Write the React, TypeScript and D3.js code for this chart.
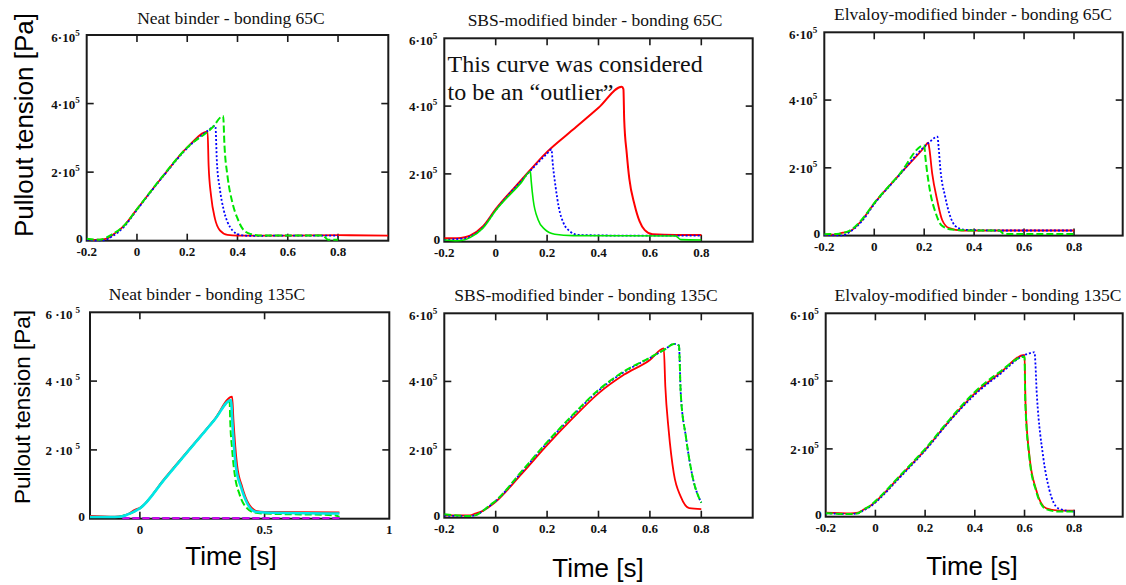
import React from "react";
import * as d3 from "d3";

type P = [number, number];

// Pullout tension values in units of 1e5 Pa, time in s
const neat65Red: P[] = [[-0.2,0.05],[-0.17,0.02],[-0.15,0.03],[-0.12,0.06],[-0.1,0.15],[-0.05,0.45],[0,0.92],[0.1,1.85],[0.2,2.72],[0.281,3.18],[0.285,2.2],[0.295,1.3],[0.31,0.65],[0.33,0.3],[0.36,0.17],[0.4,0.15],[0.6,0.15],[0.8,0.16],[1.0,0.15]];
const neat65Blue: P[] = [[-0.2,0.03],[-0.15,0.0],[-0.12,0.04],[-0.1,0.12],[-0.05,0.42],[0,0.9],[0.1,1.84],[0.2,2.7],[0.28,3.2],[0.312,3.35],[0.318,2.3],[0.33,1.5],[0.345,0.9],[0.36,0.55],[0.38,0.3],[0.41,0.17],[0.45,0.14],[0.6,0.15],[0.8,0.15]];
const neat65Green: P[] = [[-0.2,0.06],[-0.15,0.03],[-0.1,0.18],[-0.05,0.45],[0,0.92],[0.1,1.86],[0.2,2.72],[0.3,3.3],[0.343,3.64],[0.348,2.8],[0.36,1.9],[0.38,1.1],[0.4,0.65],[0.42,0.35],[0.45,0.2],[0.5,0.15],[0.74,0.15],[0.76,0.03],[0.8,0.03]];

const sbs65Red: P[] = [[-0.2,0.1],[-0.15,0.1],[-0.12,0.13],[-0.1,0.18],[-0.05,0.45],[0,0.96],[0.1,1.82],[0.2,2.65],[0.3,3.3],[0.4,3.95],[0.491,4.57],[0.497,4.5],[0.5,3.6],[0.51,2.6],[0.52,1.85],[0.54,1.1],[0.56,0.6],[0.58,0.34],[0.61,0.22],[0.7,0.2],[0.8,0.2]];
const sbs65Blue: P[] = [[-0.2,0.05],[-0.15,0.08],[-0.12,0.1],[-0.1,0.15],[-0.05,0.42],[0,0.93],[0.1,1.8],[0.2,2.6],[0.217,2.72],[0.222,2.3],[0.233,1.62],[0.245,1.03],[0.264,0.55],[0.29,0.3],[0.32,0.2],[0.5,0.18],[0.8,0.18]];
const sbs65Green: P[] = [[-0.2,0.05],[-0.15,0.03],[-0.12,0.06],[-0.1,0.12],[-0.05,0.4],[0,0.92],[0.1,1.75],[0.135,2.07],[0.138,1.8],[0.146,1.23],[0.165,0.65],[0.19,0.37],[0.23,0.22],[0.3,0.18],[0.7,0.17],[0.72,0.06],[0.8,0.05]];

const elv65Red: P[] = [[-0.2,0.03],[-0.15,0.03],[-0.13,0.08],[-0.1,0.12],[-0.05,0.45],[0,0.95],[0.1,1.79],[0.2,2.6],[0.216,2.74],[0.22,2.6],[0.232,1.84],[0.252,1.05],[0.272,0.46],[0.3,0.22],[0.35,0.15],[0.8,0.15]];
const elv65Blue: P[] = [[-0.2,0.02],[-0.13,0.0],[-0.1,0.1],[-0.05,0.42],[0,0.93],[0.1,1.78],[0.2,2.62],[0.22,2.75],[0.253,2.92],[0.258,2.6],[0.264,2.03],[0.284,1.15],[0.31,0.46],[0.337,0.22],[0.37,0.17],[0.5,0.15],[0.8,0.15]];
const elv65Green: P[] = [[-0.2,0.04],[-0.15,0.05],[-0.1,0.14],[-0.05,0.47],[0,0.96],[0.1,1.8],[0.2,2.67],[0.205,2.3],[0.225,1.25],[0.245,0.69],[0.27,0.3],[0.31,0.18],[0.4,0.15],[0.5,0.15],[0.52,0.05],[0.8,0.05]];

const neat135Red: P[] = [[-0.2,0.08],[-0.1,0.06],[-0.07,0.08],[-0.05,0.13],[-0.02,0.26],[0,0.32],[0.1,1.18],[0.2,2.04],[0.3,2.9],[0.37,3.55],[0.375,2.9],[0.39,1.55],[0.41,0.93],[0.435,0.45],[0.47,0.22],[0.5,0.2],[0.8,0.18]];
const neat135Green: P[] = [[-0.2,0.05],[-0.1,0.05],[-0.05,0.12],[0,0.3],[0.1,1.16],[0.2,2.02],[0.3,2.88],[0.36,3.4],[0.362,2.9],[0.37,2.0],[0.38,1.3],[0.4,0.7],[0.43,0.3],[0.46,0.18],[0.5,0.15],[0.78,0.1],[0.8,0.05]];
const neat135Blue: P[] = [[-0.07,0.01],[0.8,0.01]];
const neat135Magenta: P[] = [[-0.07,0.01],[0.8,0.01]];
const neat135Cyan: P[] = [[-0.2,0.05],[-0.1,0.05],[-0.07,0.07],[-0.05,0.12],[-0.02,0.22],[0,0.3],[0.1,1.16],[0.2,2.02],[0.3,2.88],[0.366,3.45],[0.37,2.9],[0.385,1.51],[0.405,0.93],[0.43,0.45],[0.464,0.2],[0.5,0.18],[0.8,0.15]];

const sbs135Red: P[] = [[-0.2,0.07],[-0.1,0.07],[-0.08,0.12],[-0.05,0.2],[-0.02,0.35],[0,0.47],[0.1,1.28],[0.2,2.13],[0.3,2.92],[0.4,3.65],[0.5,4.2],[0.6,4.63],[0.654,4.97],[0.66,3.85],[0.673,2.57],[0.693,1.3],[0.72,0.62],[0.753,0.28],[0.8,0.25]];
const sbs135Blue: P[] = [[-0.2,0.06],[-0.1,0.05],[-0.07,0.1],[-0.05,0.2],[-0.02,0.37],[0,0.49],[0.1,1.33],[0.2,2.2],[0.3,3.0],[0.4,3.73],[0.5,4.28],[0.6,4.69],[0.66,4.95],[0.693,5.1],[0.713,5.06],[0.72,3.65],[0.74,2.38],[0.766,1.2],[0.8,0.44]];
const sbs135Green: P[] = [[-0.2,0.1],[-0.1,0.05],[-0.07,0.1],[-0.05,0.2],[-0.02,0.38],[0,0.5],[0.1,1.35],[0.2,2.22],[0.3,3.02],[0.4,3.75],[0.5,4.3],[0.6,4.7],[0.66,4.95],[0.693,5.1],[0.713,5.05],[0.72,3.65],[0.74,2.38],[0.766,1.2],[0.8,0.44]];

const elv135Red: P[] = [[-0.2,0.12],[-0.1,0.1],[-0.07,0.12],[-0.05,0.2],[-0.02,0.32],[0,0.44],[0.1,1.2],[0.2,1.97],[0.3,2.85],[0.4,3.64],[0.5,4.23],[0.6,4.77],[0.604,3.34],[0.62,1.77],[0.647,0.79],[0.687,0.25],[0.74,0.18],[0.8,0.18]];
const elv135Blue: P[] = [[-0.2,0.1],[-0.1,0.08],[-0.07,0.1],[-0.05,0.18],[-0.02,0.3],[0,0.42],[0.1,1.17],[0.2,1.95],[0.3,2.83],[0.4,3.6],[0.5,4.2],[0.6,4.77],[0.62,4.82],[0.64,4.85],[0.65,3.54],[0.675,1.77],[0.7,0.79],[0.735,0.25],[0.8,0.15]];
const elv135Green: P[] = [[-0.2,0.1],[-0.1,0.08],[-0.07,0.1],[-0.05,0.2],[-0.02,0.33],[0,0.46],[0.1,1.22],[0.2,2.0],[0.3,2.88],[0.4,3.68],[0.5,4.27],[0.6,4.72],[0.603,3.4],[0.62,1.72],[0.647,0.75],[0.687,0.22],[0.74,0.15],[0.8,0.15]];

const xTickLabelsA = [-0.2, 0, 0.2, 0.4, 0.6, 0.8];
const xTickLabelsB = [0, 0.5, 1];
const yTickValues = [0, 2, 4, 6];

const titles = [
  "Neat binder - bonding 65C",
  "SBS-modified binder - bonding 65C",
  "Elvaloy-modified binder - bonding 65C",
  "Neat binder - bonding 135C",
  "SBS-modified binder - bonding 135C",
  "Elvaloy-modified binder - bonding 135C",
];

const RED = "#ff0000";
const BLUE = "#0000ff";
const GREEN = "#00e600";
const CYAN = "#00e6e6";
const MAGENTA = "#e600e6";

type Series = { data: P[]; color: string; dash?: string; width?: number };

type PanelCfg = {
  title: string;
  titleX: number;
  titleY: number;
  left: number;
  right: number;
  top: number;
  bottom: number;
  xMax: number;
  xLabels: number[];
  spaced?: boolean;
  series: Series[];
};

const solid = (data: P[], color: string, width = 1.8): Series => ({ data, color, width });
const dotted = (data: P[], color: string): Series => ({ data, color, dash: "2,2", width: 1.8 });
const dashed = (data: P[], color: string): Series => ({ data, color, dash: "7,3", width: 2 });

const panels: PanelCfg[] = [
  {
    title: titles[0], titleX: 231, titleY: 24,
    left: 86.7, right: 388.3, top: 35, bottom: 240.7, xMax: 1.0, xLabels: xTickLabelsA,
    series: [solid(neat65Red, RED), dotted(neat65Blue, BLUE), dashed(neat65Green, GREEN)],
  },
  {
    title: titles[1], titleX: 595, titleY: 26,
    left: 444.3, right: 752.7, top: 38.3, bottom: 241.7, xMax: 1.0, xLabels: xTickLabelsA,
    series: [solid(sbs65Red, RED, 2), dotted(sbs65Blue, BLUE), solid(sbs65Green, GREEN, 1.6)],
  },
  {
    title: titles[2], titleX: 973, titleY: 20,
    left: 824.3, right: 1122.7, top: 32.3, bottom: 235.6, xMax: 0.995, xLabels: xTickLabelsA,
    series: [solid(elv65Red, RED), dotted(elv65Blue, BLUE), dashed(elv65Green, GREEN)],
  },
  {
    title: titles[3], titleX: 207, titleY: 300,
    left: 90, right: 389.3, top: 312.3, bottom: 518.7, xMax: 1.0, xLabels: xTickLabelsB, spaced: true,
    series: [solid(neat135Red, RED), dashed(neat135Green, GREEN), dashed(neat135Blue, BLUE), dashed(neat135Magenta, MAGENTA), solid(neat135Cyan, CYAN, 2.6)],
  },
  {
    title: titles[4], titleX: 586, titleY: 301,
    left: 444.3, right: 752.7, top: 313.3, bottom: 517.7, xMax: 1.0, xLabels: xTickLabelsA,
    series: [solid(sbs135Red, RED), dotted(sbs135Blue, BLUE), dashed(sbs135Green, GREEN)],
  },
  {
    title: titles[5], titleX: 978, titleY: 301,
    left: 825.7, right: 1122.7, top: 313.3, bottom: 516.7, xMax: 0.995, xLabels: xTickLabelsA,
    series: [solid(elv135Red, RED), dotted(elv135Blue, BLUE), dashed(elv135Green, GREEN)],
  },
];

const SERIF = "'Liberation Serif', 'Times New Roman', serif";
const SANS = "'Liberation Sans', Arial, sans-serif";

function fmtX(v: number) {
  if (v === 0) return "0";
  return String(v);
}

function Panel({ cfg, idx }: { cfg: PanelCfg; idx: number }) {
  const x = d3.scaleLinear().domain([-0.2, cfg.xMax]).range([cfg.left, cfg.right]);
  const y = d3.scaleLinear().domain([0, 6]).range([cfg.bottom, cfg.top]);
  const line = d3
    .line<P>()
    .x((d) => x(d[0]))
    .y((d) => y(d[1]))
    .curve(d3.curveMonotoneX);
  const tickLen = 7;
  const clipId = `clip${idx}`;
  const markTicks = cfg.xLabels.filter((v) => v > -0.15 && x(v) < cfg.right - 2);
  return (
    <g>
      <defs>
        <clipPath id={clipId}>
          <rect x={cfg.left} y={cfg.top - 2} width={cfg.right - cfg.left} height={cfg.bottom - cfg.top + 3} />
        </clipPath>
      </defs>
      <text x={cfg.titleX} y={cfg.titleY} textAnchor="middle" fontFamily={SERIF} fontSize={17.5} fill="#111">
        {cfg.title}
      </text>
      <rect
        x={cfg.left}
        y={cfg.top}
        width={cfg.right - cfg.left}
        height={cfg.bottom - cfg.top}
        fill="none"
        stroke="#1a1a1a"
        strokeWidth={2}
      />
      {markTicks.map((v) => (
        <g key={`xt${v}`}>
          <line x1={x(v)} x2={x(v)} y1={cfg.bottom} y2={cfg.bottom - tickLen} stroke="#1a1a1a" strokeWidth={1.6} />
          <line x1={x(v)} x2={x(v)} y1={cfg.top} y2={cfg.top + tickLen} stroke="#1a1a1a" strokeWidth={1.6} />
        </g>
      ))}
      {yTickValues
        .filter((v) => v > 0 && v < 6)
        .map((v) => (
          <g key={`yt${v}`}>
            <line x1={cfg.left} x2={cfg.left + tickLen} y1={y(v)} y2={y(v)} stroke="#1a1a1a" strokeWidth={1.6} />
            <line x1={cfg.right} x2={cfg.right - tickLen} y1={y(v)} y2={y(v)} stroke="#1a1a1a" strokeWidth={1.6} />
          </g>
        ))}
      <g clipPath={`url(#${clipId})`}>
        {cfg.series.map((s, i) => (
          <path
            key={i}
            d={line(s.data) || ""}
            fill="none"
            stroke={s.color}
            strokeWidth={s.width ?? 1.8}
            strokeDasharray={s.dash}
            strokeLinejoin="round"
          />
        ))}
      </g>
      {cfg.xLabels.map((v) => (
        <text
          key={`xl${v}`}
          x={x(v)}
          y={cfg.bottom + 15}
          textAnchor="middle"
          fontFamily={SERIF}
          fontWeight="bold"
          fontSize={13}
          fill="#111"
        >
          {fmtX(v)}
        </text>
      ))}
      {yTickValues.map((v) => {
        if (v === 0) {
          return (
            <text
              key={`yl${v}`}
              x={cfg.left - (cfg.spaced ? 5 : 4)}
              y={y(v) + 2}
              textAnchor="end"
              fontFamily={SERIF}
              fontWeight="bold"
              fontSize={13.5}
              fill="#111"
            >
              0
            </text>
          );
        }
        const by = v === 6 ? y(v) + 7 : y(v) + 5;
        return (
          <text
            key={`yl${v}`}
            x={cfg.left - (cfg.spaced ? 10 : 7)}
            y={by}
            textAnchor="end"
            fontFamily={SERIF}
            fontWeight="bold"
            fontSize={13}
            fill="#111"
          >
            {cfg.spaced ? `${v} ·10` : `${v}·10`}
            <tspan dx={cfg.spaced ? 3 : 0} dy={-6} fontSize={9}>
              5
            </tspan>
          </text>
        );
      })}
    </g>
  );
}

export default function App() {
  return (
    <svg
      width={1126}
      height={585}
      viewBox="0 0 1126 585"
      style={{ position: "absolute", left: 0, top: 0, background: "#fff" }}
    >
      <rect x={0} y={0} width={1126} height={585} fill="#fff" />
      {panels.map((p, i) => (
        <Panel key={i} cfg={p} idx={i} />
      ))}
      <text x={447.5} y={72} fontFamily={SERIF} fontSize={24} fill="#111">
        This curve was considered
      </text>
      <text x={447.5} y={100} fontFamily={SERIF} fontSize={24} fill="#111">
        to be an “outlier”
      </text>
      <text
        transform="translate(32.5,125) rotate(-90)"
        textAnchor="middle"
        fontFamily={SANS}
        fontSize={26}
        fill="#000"
      >
        Pullout tension [Pa]
      </text>
      <text
        transform="translate(30,407) rotate(-90)"
        textAnchor="middle"
        fontFamily={SANS}
        fontSize={22.5}
        fill="#000"
      >
        Pullout tension [Pa]
      </text>
      <text x={231} y={565} textAnchor="middle" fontFamily={SANS} fontSize={26} fill="#000">
        Time [s]
      </text>
      <text x={598} y={577} textAnchor="middle" fontFamily={SANS} fontSize={26} fill="#000">
        Time [s]
      </text>
      <text x={972} y={575} textAnchor="middle" fontFamily={SANS} fontSize={26} fill="#000">
        Time [s]
      </text>
    </svg>
  );
}
